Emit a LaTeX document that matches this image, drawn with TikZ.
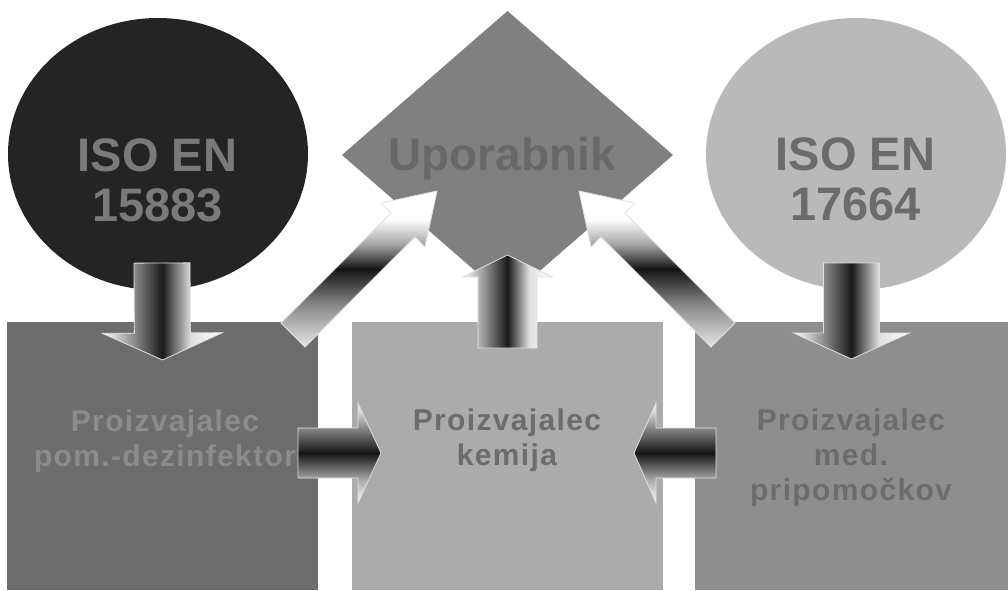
\documentclass[tikz,border=0pt]{standalone}
\usepackage{fontspec}
\setmainfont{Liberation Sans}
\newfontfamily\boxfont[LetterSpace=4.5]{Liberation Sans}
\usetikzlibrary{shapes.geometric,calc}
\definecolor{circL}{HTML}{242424}
\definecolor{circLt}{HTML}{7A7A7A}
\definecolor{dia}{HTML}{808080}
\definecolor{diat}{HTML}{686868}
\definecolor{circR}{HTML}{B9B9B9}
\definecolor{circRt}{HTML}{6B6B6B}
\definecolor{boxL}{HTML}{6D6D6D}
\definecolor{boxLt}{HTML}{8C8C8C}
\definecolor{boxM}{HTML}{ABABAB}
\definecolor{boxMt}{HTML}{6C6C6C}
\definecolor{boxR}{HTML}{8E8E8E}
\definecolor{boxRt}{HTML}{6C6C6C}
\pgfdeclarehorizontalshading{arrowv}{100bp}{color(0bp)=(white); color(25bp)=(white); color(38bp)=(black!45); color(50bp)=(black!90); color(62bp)=(black!12); color(75bp)=(white); color(100bp)=(white)}
\pgfdeclareverticalshading{arrowh}{100bp}{color(0bp)=(white); color(25bp)=(white); color(37bp)=(black!35); color(50bp)=(black!92); color(63bp)=(black!45); color(75bp)=(white); color(100bp)=(white)}
\pgfdeclareverticalshading{arrowd}{100bp}{color(0bp)=(black!10); color(25bp)=(black!10); color(38bp)=(black!45); color(50bp)=(black!92); color(58bp)=(black!35); color(66bp)=(white); color(100bp)=(white)}
\newcommand{\bigarrow}[6]{%
  \path #2 coordinate (ba-t) #3 coordinate (ba-h);
  \path ($(ba-h)!#6!(ba-t)$) coordinate (ba-b);
  \shadedraw[#1] ($(ba-t)!#4!90:(ba-h)$) -- ($(ba-b)!#4!90:(ba-h)$) -- ($(ba-b)!#5!90:(ba-h)$) -- (ba-h) -- ($(ba-b)!#5!-90:(ba-h)$) -- ($(ba-b)!#4!-90:(ba-h)$) -- ($(ba-t)!#4!-90:(ba-h)$) -- cycle;
}
\tikzset{
  shapebox/.style={draw=none, inner sep=0pt, outer sep=0pt},
  bigtxt/.style={inner sep=0pt, align=center, font=\fontsize{47}{50}\selectfont\bfseries},
  boxtxt/.style={inner sep=0pt, align=center, anchor=north, font=\boxfont\fontsize{30}{35}\selectfont\bfseries},
  arrowedge/.style={draw=white!88!black, line width=0.8pt, line join=miter},
}
\begin{document}
\begin{tikzpicture}[x=1pt,y=-1pt]
\useasboundingbox[fill=white] (0,0) rectangle (1008,590);
% boxes
\node[shapebox, rectangle, fill=boxL, minimum width=311pt, minimum height=268pt] (pL) at (162.5,456) {};
\node[shapebox, rectangle, fill=boxM, minimum width=311pt, minimum height=268pt] (pM) at (507.5,456) {};
\node[shapebox, rectangle, fill=boxR, minimum width=313pt, minimum height=268pt] (pR) at (851.5,456) {};
% circles and diamond
\node[shapebox, ellipse, fill=circL, minimum width=300pt, minimum height=272pt] (iso1) at (158,154) {};
\node[shapebox, ellipse, fill=circR, minimum width=300pt, minimum height=272pt] (iso2) at (856,154) {};
\node[shapebox, diamond, fill=dia, minimum width=331pt, minimum height=288pt] (user) at (507.5,155) {};
% labels
\node[bigtxt, text=circLt] (t1) at (157.5,180) {ISO EN\\15883};
\node[bigtxt, text=circRt] (t3) at (855.5,179) {ISO EN\\17664};
\node[inner sep=0pt, anchor=base, text=diat, font=\fontsize{46}{50}\selectfont\bfseries] (t2) at (502,170) {Uporabnik};
\node[boxtxt, text=boxLt] (tL) at (165,410) {Proizvajalec\\pom.-dezinfektor};
\node[boxtxt, text=boxMt] (tM) at (507,409) {Proizvajalec\\kemija};
\node[boxtxt, text=boxRt] (tR) at (851,409) {Proizvajalec\\med.\\pripomočkov};
% block arrows
\bigarrow{shading=arrowv,arrowedge}{([xshift=4pt,yshift=27pt]iso1.south)}{([yshift=-38pt]pL.north)}{28pt}{60pt}{27pt}
\bigarrow{shading=arrowv,arrowedge}{([xshift=-4.5pt,yshift=27pt]iso2.south)}{([yshift=-37pt]pR.north)}{28pt}{58pt}{26pt}
\bigarrow{shading=arrowv,arrowedge}{([yshift=-26pt]pM.north)}{([yshift=44pt]user.south)}{29.5pt}{45pt}{22pt}
\bigarrow{shading=arrowd,arrowedge}{([xshift=-25pt,yshift=-13pt]pL.north east)}{([xshift=95pt,yshift=-36pt]user.west)}{17pt}{31pt}{48pt}
\bigarrow{shading=arrowd,arrowedge}{([xshift=28pt,yshift=-13pt]pR.north west)}{([xshift=-94pt,yshift=-36pt]user.east)}{17pt}{31pt}{48pt}
\bigarrow{shading=arrowh,arrowedge}{([xshift=-20pt,yshift=3pt]pL.east)}{([xshift=29pt,yshift=3pt]pM.west)}{25pt}{50pt}{23pt}
\bigarrow{shading=arrowh,arrowedge}{([xshift=21pt,yshift=3pt]pR.west)}{([xshift=-29pt,yshift=3pt]pM.east)}{25pt}{50pt}{22pt}
\end{tikzpicture}
\end{document}
